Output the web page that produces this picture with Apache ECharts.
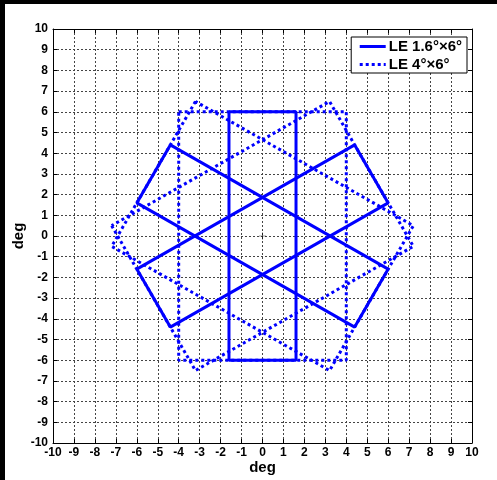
<!DOCTYPE html>
<html>
<head>
<meta charset="utf-8">
<script src="https://cdn.jsdelivr.net/npm/echarts@6/dist/echarts.min.js"></script>
<style>
html,body{margin:0;padding:0;background:#000;width:497px;height:480px;overflow:hidden;}
#chart{position:absolute;left:5px;top:4px;width:492px;height:476px;background:#fff;}
</style>
</head>
<body>
<div id="chart"></div>
<script>
// ---- data (degrees) ----
const seriesNames = ['LE 1.6°×6°', 'LE 4°×6°'];
const axisTicks = [-10,-9,-8,-7,-6,-5,-4,-3,-2,-1,0,1,2,3,4,5,6,7,8,9,10];
// LE 1.6°×6° footprints (solid)
const solidRect0   = [[-1.6, 6], [1.6, 6], [1.6, -6], [-1.6, -6], [-1.6, 6]];
const solidRect60  = [[-4.4, 4.4], [-6, 1.6], [4.4, -4.4], [6, -1.6], [-4.4, 4.4]];
const solidRect120 = [[-6, -1.6], [-4.4, -4.4], [6, 1.6], [4.4, 4.4], [-6, -1.6]];
// LE 4°×6° footprints (dotted)
const dotRect0   = [[-4, 6], [4, 6], [4, -6], [-4, -6], [-4, 6]];
const dotRect60  = [[-3.2, 6.5], [-7.2, -0.5], [3.2, -6.5], [7.2, 0.5], [-3.2, 6.5]];
const dotRect120 = [[-7.2, 0.5], [-3.2, -6.5], [7.2, -0.5], [3.2, 6.5], [-7.2, 0.5]];
// boresight
const centerPoint = [[0, 0]];

const chart = echarts.init(document.getElementById('chart'), null, {renderer: 'canvas'});
const FONT = '"Liberation Sans", Arial, sans-serif';
const BLUE = '#0000ff';

function axisBase(extra) {
  return Object.assign({
    type: 'value', min: -10, max: 10, interval: 1,
    axisLine: {show: true, onZero: false, lineStyle: {color: '#000', width: 1}},
    axisTick: {show: true, inside: true, length: 4, lineStyle: {color: '#000'}},
    splitLine: {show: false},
    axisLabel: {show: false}
  }, extra);
}

const gridLineStyle = {color: '#444', width: 1, type: [2, 2]};

const solidStyle = {color: BLUE, width: 3, type: 'solid'};
const dotStyle = {color: BLUE, width: 3, type: [3, 3], cap: 'butt'};

function lineSeries(name, data, style) {
  return {
    name: name, type: 'line', data: data, symbol: 'none', showSymbol: false,
    lineStyle: style, itemStyle: {color: BLUE}, animation: false, z: 3,
    xAxisIndex: 0, yAxisIndex: 0
  };
}

const option = {
  animation: false,
  backgroundColor: '#fff',
  grid: {left: 48, top: 25, width: 419, height: 414, containLabel: false, outerBoundsMode: 'none'},
  xAxis: [
    axisBase({
      position: 'bottom',
      name: 'deg', nameLocation: 'middle', nameGap: 17, nameMoveOverlap: false,
      nameTextStyle: {fontFamily: FONT, fontWeight: 'bold', fontSize: 15, color: '#000', verticalAlign: 'top'},
      splitLine: {show: true, lineStyle: gridLineStyle},
      axisLabel: {show: true, margin: 4, fontFamily: FONT, fontWeight: 'bold', fontSize: 12, color: '#000',
        showMinLabel: true, showMaxLabel: true}
    }),
    axisBase({position: 'top'})
  ],
  yAxis: [
    axisBase({
      position: 'left',
      name: 'deg', nameLocation: 'middle', nameGap: 27, nameRotate: 90, nameMoveOverlap: false,
      nameTextStyle: {fontFamily: FONT, fontWeight: 'bold', fontSize: 15, color: '#000'},
      splitLine: {show: true, lineStyle: gridLineStyle},
      axisLabel: {show: true, margin: 5, fontFamily: FONT, fontWeight: 'bold', fontSize: 12, color: '#000',
        showMinLabel: true, showMaxLabel: true}
    }),
    axisBase({position: 'right'})
  ],
  legend: {
    show: true,
    data: seriesNames,
    orient: 'vertical',
    right: 30, top: 33,
    backgroundColor: '#fff',
    borderColor: '#000', borderWidth: 1, borderRadius: 0,
    padding: [2, 5, 1, 7],
    itemWidth: 26, itemHeight: 14, itemGap: 3,
    itemStyle: {opacity: 0},
    lineStyle: {width: 3},
    textStyle: {fontFamily: FONT, fontWeight: 'bold', fontSize: 15, lineHeight: 14, color: '#000', padding: [0,0,0,-2]},
    selectedMode: false
  },
  series: [
    lineSeries(seriesNames[0], solidRect0, solidStyle),
    lineSeries(seriesNames[0], solidRect60, solidStyle),
    lineSeries(seriesNames[0], solidRect120, solidStyle),
    lineSeries(seriesNames[1], dotRect0, dotStyle),
    lineSeries(seriesNames[1], dotRect60, dotStyle),
    lineSeries(seriesNames[1], dotRect120, dotStyle),
    {
      name: 'center', type: 'scatter', data: centerPoint,
      symbol: 'path://M0,4.5H10V5.5H0Z M4.5,0H5.5V10H4.5Z', symbolSize: 7,
      itemStyle: {color: '#000'}, z: 4, silent: true
    }
  ]
};
chart.setOption(option);
</script>
</body>
</html>
